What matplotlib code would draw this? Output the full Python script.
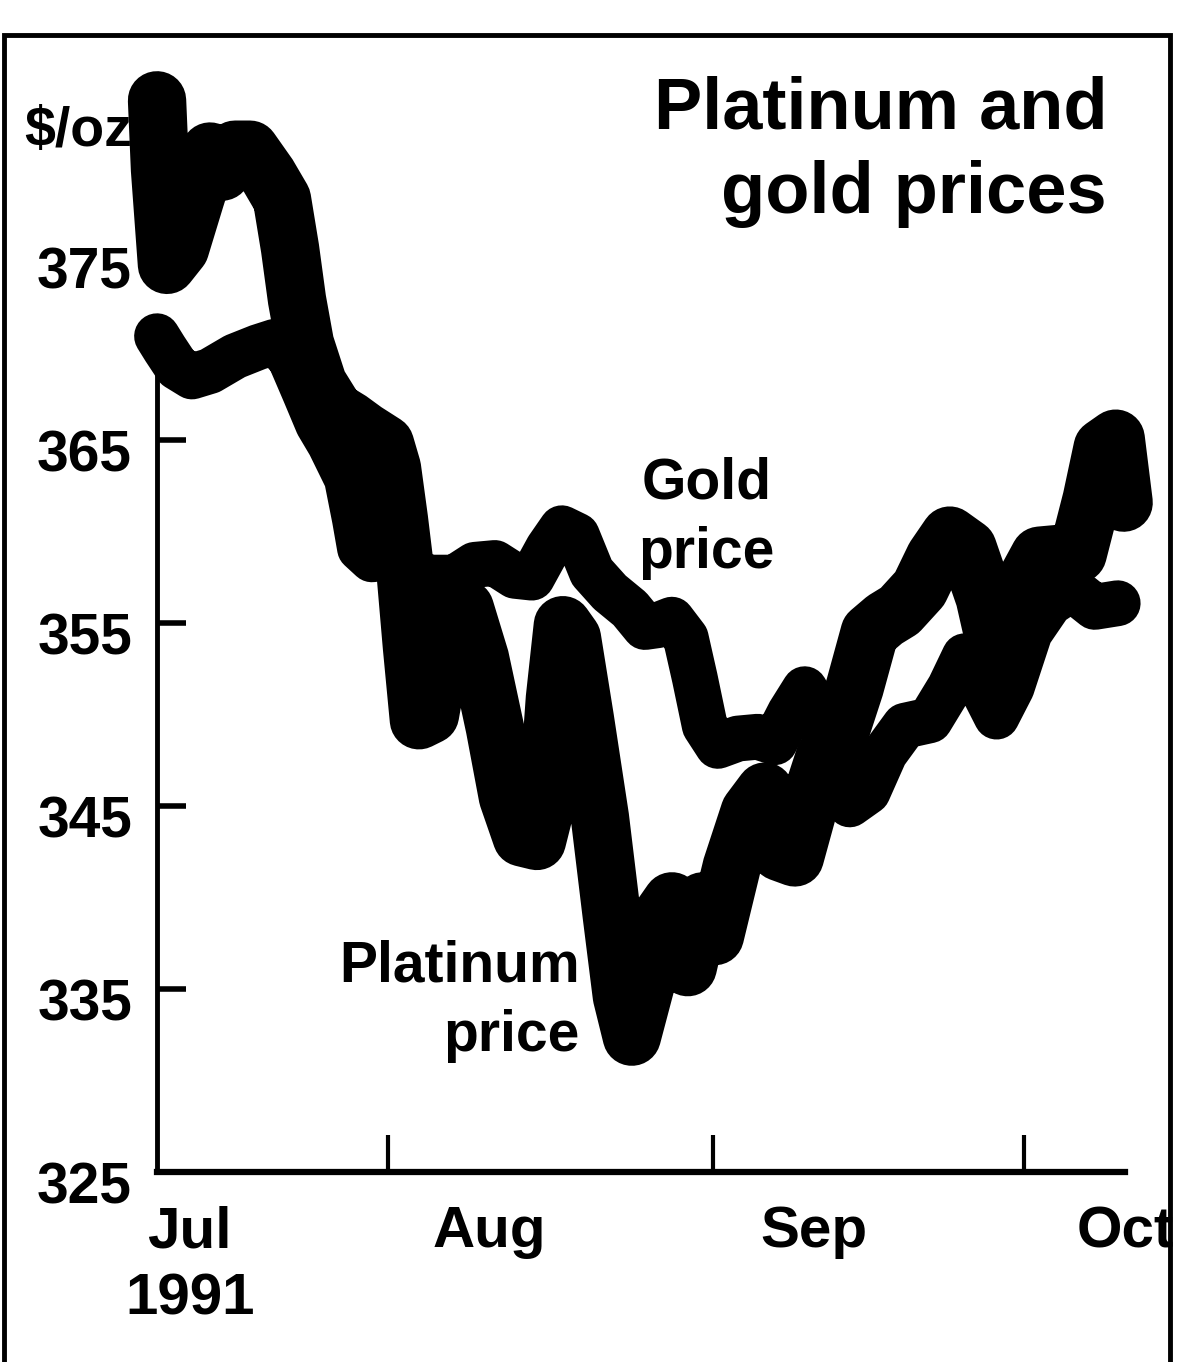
import matplotlib
matplotlib.use("Agg")
import matplotlib.pyplot as plt
from matplotlib.patches import Rectangle
from matplotlib.transforms import ScaledTranslation

plt.rcParams['font.family'] = ['Liberation Sans', 'DejaVu Sans']
plt.rcParams['font.weight'] = 'bold'

# ---------- data: trading days from 1 Jul 1991, $/oz ----------
plat_day = [0.00, 0.21, 0.70, 1.62, 2.68, 3.73, 4.58, 5.49, 6.55, 7.82, 8.80, 9.37,
            9.86, 10.42, 11.34, 12.54, 13.59, 14.65, 16.06, 16.55, 17.04, 17.54, 17.96,
            18.45, 19.23, 20.07, 20.77, 21.69, 22.75, 23.80, 24.72, 25.70, 26.76, 27.54,
            28.03, 28.59, 29.23, 30.14, 31.20, 32.04, 32.75, 33.45, 34.37, 35.28, 36.27,
            37.39, 38.45, 39.30, 40.49, 41.76, 42.82, 43.87, 44.93, 45.99, 47.04, 48.10,
            49.15, 50.21, 51.27, 52.32, 53.73, 54.79, 55.85, 57.11, 58.31, 59.51, 60.92,
            62.18, 63.59, 64.86, 65.85, 66.62, 67.54, 68.10]
plat_price = [383.6, 379.8, 374.6, 375.5, 378.2, 380.8, 379.7, 380.9, 380.9, 379.5, 378.2, 375.5,
              372.7, 370.3, 368.1, 366.6, 366.1, 365.5, 364.8, 363.5, 360.7, 357.5, 353.7,
              349.7, 350.0, 353.7, 356.4, 355.8, 353.1, 349.3, 345.5, 343.3, 343.1, 345.5,
              350.9, 354.9, 354.2, 349.8, 344.4, 339.0, 334.6, 332.4, 335.1, 338.7, 339.8,
              336.2, 339.8, 337.9, 341.7, 344.7, 345.8, 342.5, 342.2, 345.2, 347.7, 349.0,
              351.5, 354.5, 355.2, 355.7, 356.9, 358.6, 359.8, 359.1, 356.4, 352.3, 356.9,
              358.7, 358.8, 358.8, 361.8, 364.6, 365.1, 361.6]

gold_day = [0.00, 0.56, 1.41, 2.46, 3.73, 5.49, 7.11, 8.31, 9.37, 10.42, 11.34, 12.18,
            13.38, 13.94, 14.30, 15.14, 16.06, 17.46, 19.23, 20.99, 22.39, 23.80, 25.21,
            26.41, 27.54, 28.52, 29.58, 30.63, 31.90, 33.31, 34.37, 35.28, 36.27, 37.25,
            37.89, 38.59, 39.51, 40.92, 42.32, 43.52, 44.58, 45.63, 46.69, 47.75, 48.80,
            50.07, 51.27, 52.68, 54.44, 55.85, 56.90, 58.10, 59.15, 60.21, 61.48, 62.89,
            64.44, 66.06, 67.68]
gold_price = [370.7, 370.0, 369.0, 368.5, 368.8, 369.6, 370.1, 370.4, 369.5, 367.6, 365.9, 364.8,
              362.9, 360.7, 359.1, 358.5, 358.6, 358.0, 357.5, 357.5, 358.2, 358.3, 357.6,
              357.5, 359.1, 360.2, 359.8, 357.8, 356.7, 355.8, 354.8, 354.9, 355.2, 354.2,
              352.0, 349.4, 348.3, 348.7, 348.8, 348.5, 350.1, 351.4, 350.0, 347.1, 345.1,
              345.8, 347.9, 349.4, 349.7, 351.5, 353.2, 351.5, 349.9, 351.5, 354.5, 356.1,
              356.9, 355.9, 356.1]

y_ticks = [325, 335, 345, 355, 365, 375]
month_ticks = [16.3, 39.2, 61.1]
months = ["Jul", "Aug", "Sep", "Oct"]
month_x = [2.3, 23.4, 46.3, 68.2]

# ---------- figure ----------
fig = plt.figure(figsize=(11.96, 13.62), dpi=100)
ax = fig.add_axes([0.1313, 0.1395, 0.8094, 0.8164])

ax.plot(plat_day, plat_price, color='black', lw=42, solid_capstyle='round',
        solid_joinstyle='round', clip_on=False)
ax.plot(gold_day, gold_price, color='black', lw=33, solid_capstyle='round',
        solid_joinstyle='round', clip_on=False)

ax.set_xlim(0, 68.2)
ax.set_ylim(325.2, 385.8)

for s in ['top', 'right']:
    ax.spines[s].set_visible(False)
ax.spines['left'].set_linewidth(3.5)
ax.spines['left'].set_bounds(325.2, 368.7)
ax.spines['bottom'].set_linewidth(4.5)

ax.set_yticks(y_ticks)
ax.set_yticklabels([str(v) for v in y_ticks])
ax.tick_params(axis='y', direction='in', length=21, width=4, pad=18, labelsize=41)
ticks = ax.yaxis.get_major_ticks()
ticks[0].tick1line.set_visible(False)
ticks[-1].tick1line.set_visible(False)
for lab in ax.get_yticklabels():
    lab.set_fontweight('bold')
    lab.set_transform(lab.get_transform() + ScaledTranslation(0, -0.10, fig.dpi_scale_trans))

ax.set_xticks(month_ticks)
ax.set_xticklabels([])
ax.tick_params(axis='x', direction='in', length=27, width=3)

xt = ax.get_xaxis_transform()
for m, x in zip(months, month_x):
    ax.text(x, -0.054, m, transform=xt, ha='center', va='center',
            fontsize=42, fontweight='bold', clip_on=False)
ax.text(month_x[0], -0.115, "1991", transform=xt, ha='center', va='center',
        fontsize=42, fontweight='bold', clip_on=False)

# series labels
ax.text(38.7, 361.8, "Gold", ha='center', va='baseline', fontsize=41, fontweight='bold')
ax.text(38.7, 358.0, "price", ha='center', va='baseline', fontsize=41, fontweight='bold')
ax.text(29.8, 335.4, "Platinum", ha='right', va='baseline', fontsize=41, fontweight='bold')
ax.text(29.8, 331.6, "price", ha='right', va='baseline', fontsize=41, fontweight='bold')

# title and unit
fig.text(0.9256, 0.906, "Platinum and", ha='right', va='baseline', fontsize=52, fontweight='bold')
fig.text(0.9256, 0.8436, "gold prices", ha='right', va='baseline', fontsize=52, fontweight='bold')
fig.text(0.0652, 0.8928, "$/oz", ha='center', va='baseline', fontsize=40, fontweight='bold')

# outer frame
fig.patches.append(Rectangle((0.0033, -0.002), 0.975, 0.9763, transform=fig.transFigure,
                             fill=False, edgecolor='black', lw=3.5))

fig.savefig("out.png", dpi=100)
